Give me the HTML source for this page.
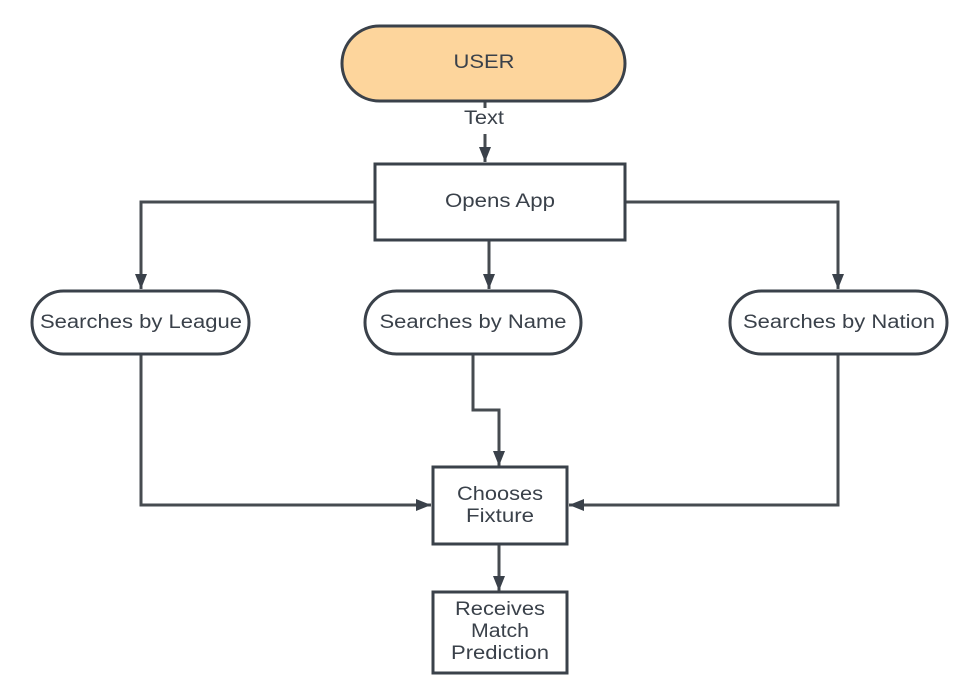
<!DOCTYPE html>
<html><head><meta charset="utf-8"><style>
html,body{margin:0;padding:0;background:#fff;}
svg{display:block;}
text{font-family:"Liberation Sans",sans-serif;fill:#3a414a;font-size:19px;text-anchor:middle;}
</style></head><body>
<svg width="980" height="698" viewBox="0 0 980 698" xmlns="http://www.w3.org/2000/svg">
<defs>
<marker id="b" markerWidth="16" markerHeight="16" refX="15" refY="6" orient="auto" markerUnits="userSpaceOnUse">
<path d="M0,0 L15,6 L0,12 z" fill="#3a414a"/></marker>
</defs>
<g fill="none" stroke="#464b50" stroke-width="3">
<path d="M485,101 V108"/>
<path d="M485,134 V162" marker-end="url(#b)"/>
<path d="M375,202 H141 V289" marker-end="url(#b)"/>
<path d="M625,202 H838 V289" marker-end="url(#b)"/>
<path d="M489,240 V289" marker-end="url(#b)"/>
<path d="M141,354 V505 H431" marker-end="url(#b)"/>
<path d="M838,354 V505 H569" marker-end="url(#b)"/>
<path d="M473,354 V410 H499 V466" marker-end="url(#b)"/>
<path d="M499,544 V591" marker-end="url(#b)"/>
</g>
<g stroke="#3a414a" stroke-width="3">
<rect x="342" y="26" width="283" height="75" rx="37.5" fill="#fdd59c"/>
<rect x="375" y="164" width="250" height="76" fill="#fff"/>
<rect x="32" y="291" width="217" height="63" rx="31.5" fill="#fff"/>
<rect x="365" y="291" width="216" height="63" rx="31.5" fill="#fff"/>
<rect x="730" y="291" width="217" height="63" rx="31.5" fill="#fff"/>
<rect x="433" y="467" width="134" height="77" fill="#fff"/>
<rect x="433" y="592" width="134" height="81" fill="#fff"/>
</g>
<g lengthAdjust="spacingAndGlyphs">
<text x="484" y="68" textLength="61" lengthAdjust="spacingAndGlyphs">USER</text>
<text x="484" y="124" textLength="40" lengthAdjust="spacingAndGlyphs">Text</text>
<text x="500" y="207" textLength="110" lengthAdjust="spacingAndGlyphs">Opens App</text>
<text x="141" y="328" textLength="202" lengthAdjust="spacingAndGlyphs">Searches by League</text>
<text x="473" y="328" textLength="187" lengthAdjust="spacingAndGlyphs">Searches by Name</text>
<text x="839" y="328" textLength="192" lengthAdjust="spacingAndGlyphs">Searches by Nation</text>
<text x="500" y="500" textLength="86" lengthAdjust="spacingAndGlyphs">Chooses</text>
<text x="500" y="522" textLength="68" lengthAdjust="spacingAndGlyphs">Fixture</text>
<text x="500" y="615" textLength="90" lengthAdjust="spacingAndGlyphs">Receives</text>
<text x="500" y="637" textLength="58" lengthAdjust="spacingAndGlyphs">Match</text>
<text x="500" y="659" textLength="98" lengthAdjust="spacingAndGlyphs">Prediction</text>
</g>
</svg>
</body></html>
